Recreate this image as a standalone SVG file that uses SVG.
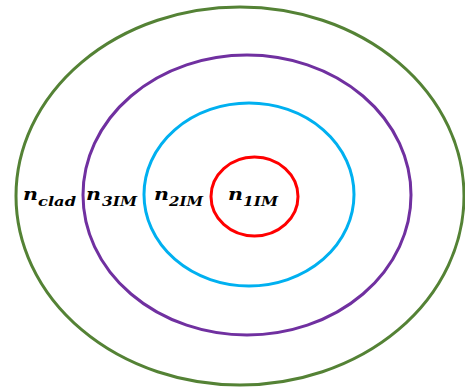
<svg xmlns="http://www.w3.org/2000/svg" width="465" height="387" viewBox="0 0 465 387">
<style>
.ring{fill:none;stroke-width:3}
.n{font-family:"DejaVu Serif","Liberation Serif",serif;font-weight:bold;font-style:italic;font-size:17px;fill:#000}
.s{font-family:"DejaVu Serif","Liberation Serif",serif;font-weight:bold;font-style:italic;font-size:12px;fill:#000}
</style>
<rect width="465" height="387" fill="#fff"/>
<g id="clad">
<ellipse class="ring" cx="240" cy="196" rx="224" ry="189" stroke="#548235"/>
<text class="n" x="23" y="200" textLength="15" lengthAdjust="spacingAndGlyphs">n</text>
<text class="s" x="38" y="206" textLength="38" lengthAdjust="spacingAndGlyphs">clad</text>
</g>
<g id="im3">
<ellipse class="ring" cx="247" cy="195" rx="164" ry="140" stroke="#7030A0"/>
<text class="n" x="86" y="200" textLength="15" lengthAdjust="spacingAndGlyphs">n</text>
<text class="s" x="102" y="206" textLength="35" lengthAdjust="spacingAndGlyphs">3IM</text>
</g>
<g id="im2">
<ellipse class="ring" cx="249" cy="194.5" rx="105" ry="91.5" stroke="#00B0F0"/>
<text class="n" x="154" y="200" textLength="15" lengthAdjust="spacingAndGlyphs">n</text>
<text class="s" x="169" y="206" textLength="34" lengthAdjust="spacingAndGlyphs">2IM</text>
</g>
<g id="im1">
<ellipse class="ring" cx="254.5" cy="196.5" rx="43.5" ry="39.5" stroke="#FF0000"/>
<text class="n" x="228" y="200" textLength="15" lengthAdjust="spacingAndGlyphs">n</text>
<text class="s" x="243" y="206" textLength="35" lengthAdjust="spacingAndGlyphs">1IM</text>
</g>
<g id="connectors"/>
</svg>
